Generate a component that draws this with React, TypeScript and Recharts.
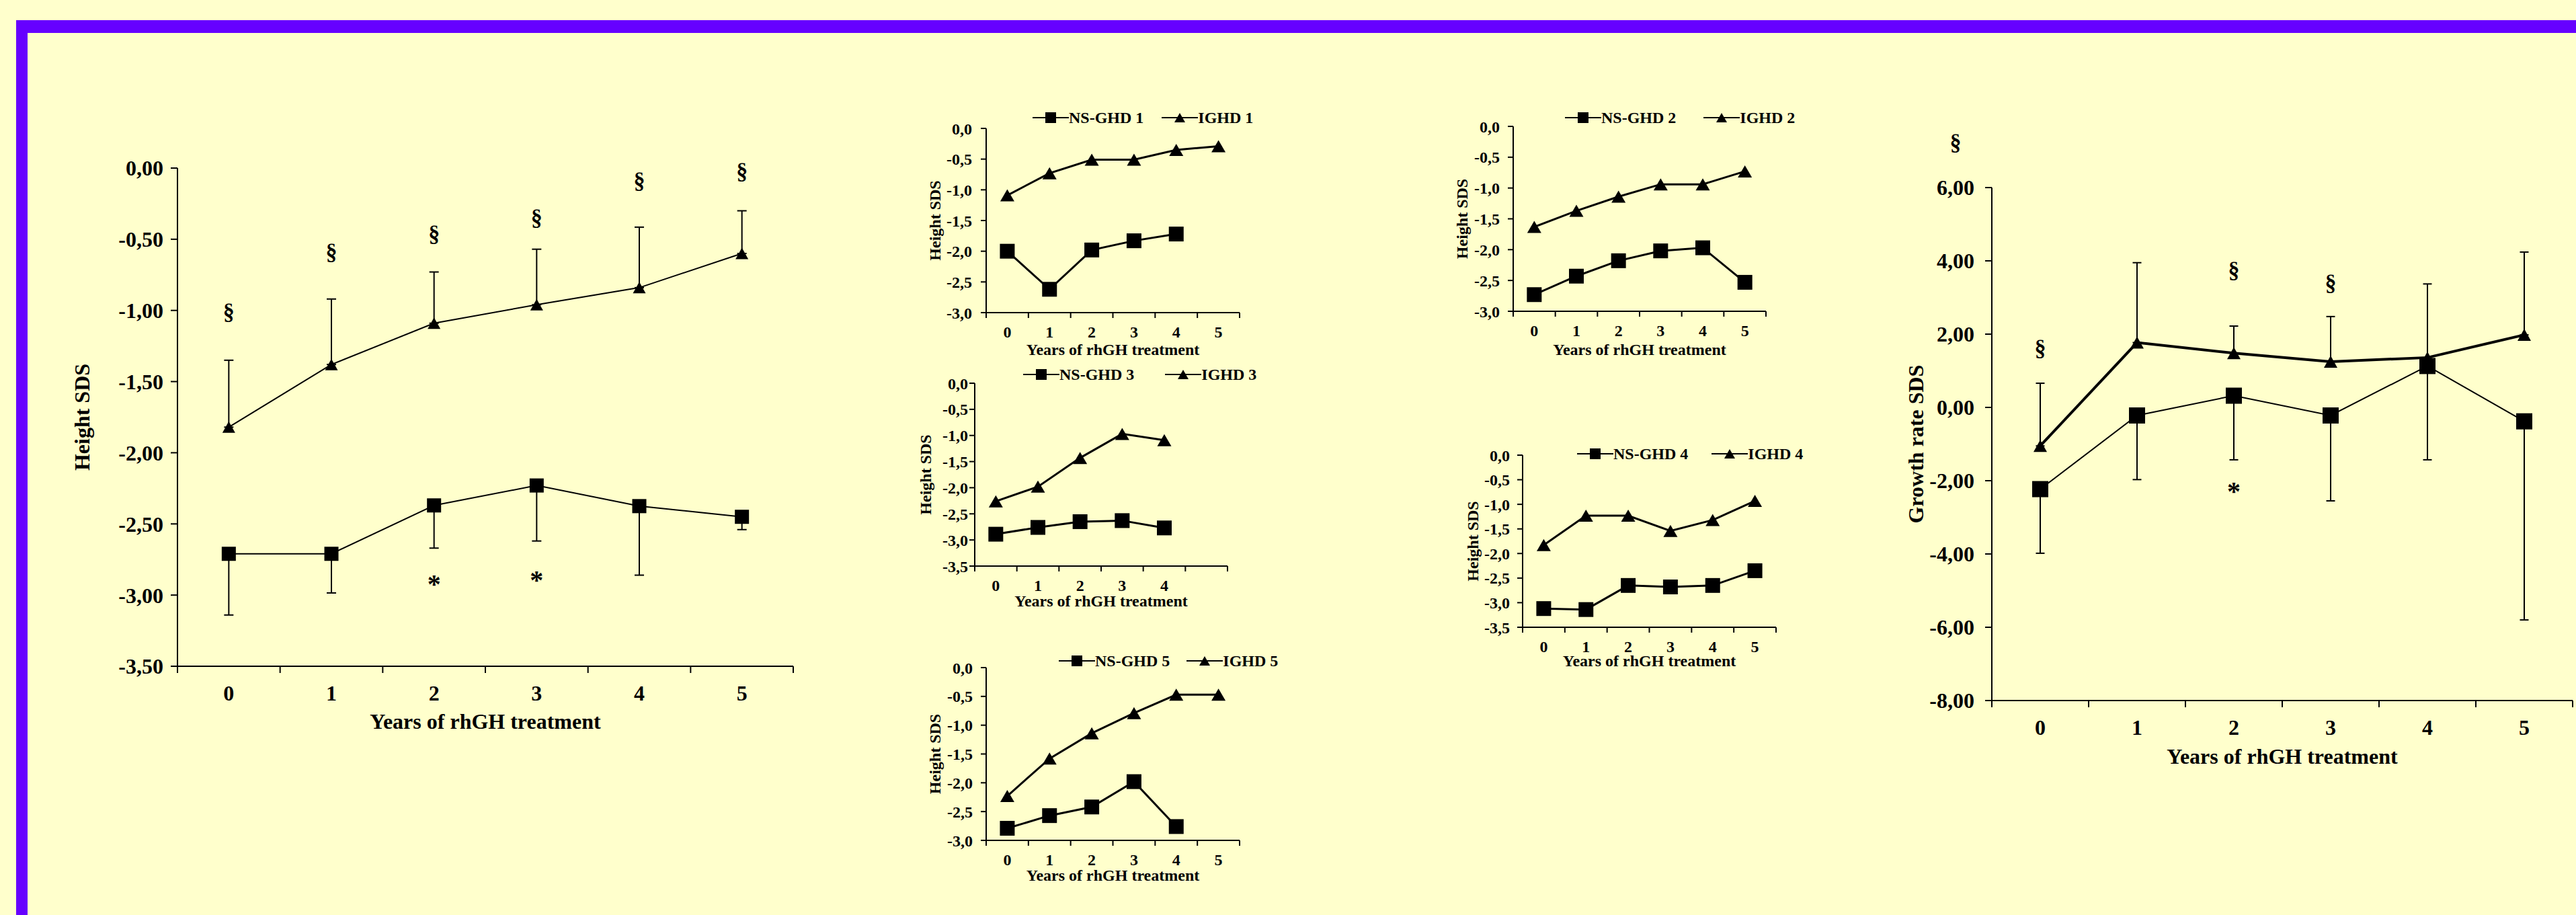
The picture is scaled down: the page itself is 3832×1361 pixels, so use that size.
import React from "react";
import { ErrorBar, Legend, Line, LineChart, XAxis, YAxis } from "recharts";

// years on the x axis (one band per year)
const years = ["0", "1", "2", "3", "4", "5"];
const years4 = ["0", "1", "2", "3", "4", ""];
const bandTicks = [0, 0.5, 1, 1.5, 2, 2.5, 3, 3.5, 4, 4.5, 5, 5.5, 6];

// height SDS, whole groups (mean, +/- SD shown one side)
const heightIghd = [-1.82, -1.38, -1.09, -0.96, -0.84, -0.6];
const heightIghdSd = [0.47, 0.46, 0.36, 0.39, 0.425, 0.3];
const heightNs = [-2.71, -2.71, -2.37, -2.23, -2.375, -2.45];
const heightNsSd = [0.43, 0.275, 0.3, 0.39, 0.485, 0.09];
const heightSection = [-1.02, -0.6, -0.47, -0.36, -0.1, -0.03];
const heightStar = [null, null, -2.89, -2.86, null, null];
const heightTicks = [0, -0.5, -1, -1.5, -2, -2.5, -3, -3.5];

// growth rate SDS
const growthIghd = [-1.05, 1.77, 1.48, 1.25, 1.36, 1.98];
const growthIghdSd = [1.71, 2.18, 0.74, 1.23, 2.01, 2.26];
const growthNs = [-2.23, -0.22, 0.32, -0.22, 1.13, -0.38];
const growthNsSd = [1.75, 1.75, 1.75, 2.33, 2.56, 5.42];
const growthSection = [1.58, null, 3.71, 3.37, null, null];
const growthStar = [null, null, -2.17, null, null, null];
const growthTicks = [6, 4, 2, 0, -2, -4, -6, -8];

// sub groups 1..5
const sub1Ns = [-2.0, -2.62, -1.98, -1.83, -1.72, null];
const sub1Ighd = [-1.09, -0.73, -0.51, -0.51, -0.35, -0.29];
const sub2Ns = [-2.73, -2.43, -2.18, -2.02, -1.97, -2.53];
const sub2Ighd = [-1.63, -1.37, -1.14, -0.94, -0.94, -0.73];
const sub3Ns = [-2.89, -2.76, -2.65, -2.63, -2.77, null];
const sub3Ighd = [-2.26, -1.98, -1.43, -0.97, -1.09, null];
const sub4Ns = [-3.12, -3.14, -2.65, -2.68, -2.65, -2.35];
const sub4Ighd = [-1.83, -1.23, -1.23, -1.54, -1.32, -0.93];
const sub5Ns = [-2.79, -2.57, -2.42, -1.98, -2.76, null];
const sub5Ighd = [-2.23, -1.58, -1.14, -0.79, -0.47, -0.47];
const subTicks3 = [0, -0.5, -1, -1.5, -2, -2.5, -3];
const subTicks35 = [0, -0.5, -1, -1.5, -2, -2.5, -3, -3.5];

type Val = number | null;

function buildRows(ighd: Val[], ns: Val[], ighdSd?: number[], nsSd?: number[], sec?: Val[], star?: Val[]) {
  return ighd.map((v, i) => ({
    x: i + 0.5,
    ighd: v,
    ns: ns[i],
    ighdErr: [0, ighdSd ? ighdSd[i] : 0],
    nsErr: [nsSd ? nsSd[i] : 0, 0],
    sec: sec ? sec[i] : null,
    star: star ? star[i] : null,
  }));
}

type Layout = {
  left: number; top: number; width: number; height: number;
  yAxisW: number; padTop: number; font: number;
  yTitleDist: number; yTickLen: number; yTickGap: number;
  xTickDy: number; xTitleBase: number; xTickLen: number;
  lineW: number; ighdW: number; square: number; triW: number; triH: number; cap: number;
  legend?: { x: number; y: number; gap: number };
};

const squareDot = (s: number) => (p: any) =>
  p.cy == null || Number.isNaN(p.cy) ? <g key={p.index} /> :
    <rect key={p.index} x={p.cx - s / 2} y={p.cy - s / 2} width={s} height={s} fill="#000" />;

const triDot = (w: number, h: number) => (p: any) =>
  p.cy == null || Number.isNaN(p.cy) ? <g key={p.index} /> :
    <polygon key={p.index} points={`${p.cx},${p.cy - h / 2} ${p.cx - w / 2},${p.cy + h / 2} ${p.cx + w / 2},${p.cy + h / 2}`} fill="#000" />;

const glyphDot = (ch: string, size: number, lift: number) => (p: any) =>
  p.cy == null || Number.isNaN(p.cy) ? <g key={p.index} /> :
    <text key={p.index} x={p.cx} y={p.cy} dy={`${lift}em`} textAnchor="middle" fontSize={size} fontWeight="bold" fill="#000">{ch}</text>;

function Panel({ rows, labels, domain, ticks, decimals, yTitle, names, L, errors, signs }: any) {
  const svgLeft = L.left - L.yAxisW;
  const svgTop = L.top - L.padTop;
  const xTick = (p: any) => {
    const v = p.payload.value;
    if (Math.abs(v - Math.round(v)) < 1e-6) {
      return <line x1={p.x} x2={p.x} y1={p.y} y2={p.y + L.xTickLen} stroke="#000" strokeWidth={2} />;
    }
    return (
      <text x={p.x} y={p.y + L.xTickDy} textAnchor="middle" fontSize={L.font} fontWeight="bold" fill="#000">
        {labels[Math.floor(v)]}
      </text>
    );
  };
  const legendBox = (props: any) => {
    // NS-GHD first, as in the original legend
    const items = [...(props.payload || [])].sort((a: any, b: any) => (a.dataKey === "ns" ? -1 : 0) - (b.dataKey === "ns" ? -1 : 0));
    return (
      <div style={{ display: "flex", alignItems: "center", height: 24, fontSize: L.font, fontWeight: "bold", whiteSpace: "nowrap", color: "#000" }}>
        {items.map((p: any, i: number) => (
          <div key={i} style={{ display: "flex", alignItems: "center", marginLeft: i ? L.legend.gap : 0 }}>
            <svg width={54} height={20}>
              <line x1={0} x2={54} y1={10} y2={10} stroke="#000" strokeWidth={2} />
              {p.dataKey === "ns" ? <rect x={19} y={2} width={16} height={16} fill="#000" /> : <polygon points="27,3 19,17 35,17" fill="#000" />}
            </svg>
            <span>{p.value}</span>
          </div>
        ))}
      </div>
    );
  };
  return (
    <div style={{ position: "absolute", left: svgLeft, top: svgTop }}>
      <LineChart
        width={L.yAxisW + L.width + 12}
        height={L.padTop + L.height + L.xTitleBase + 20}
        data={rows}
        margin={{ top: L.padTop, right: 12, bottom: 20, left: 0 }}
      >
        <XAxis
          xAxisId="yr"
          type="number"
          dataKey="x"
          domain={[0, 6]}
          ticks={bandTicks}
          interval={0}
          tickLine={false}
          tickSize={0}
          tickMargin={0}
          tick={xTick}
          height={L.xTitleBase}
          stroke="#000"
          strokeWidth={2}
          label={{ value: "Years of rhGH treatment", position: "insideBottom", offset: 0, fill: "#000", fontSize: L.font, fontWeight: "bold" }}
        />
        <YAxis
          type="number"
          domain={domain}
          ticks={ticks}
          interval={0}
          width={L.yAxisW}
          tickSize={L.yTickLen}
          tickMargin={L.yTickGap}
          tick={{ fill: "#000", fontSize: L.font, fontWeight: "bold" }}
          tickFormatter={(v: number) => v.toFixed(decimals).replace(".", ",")}
          stroke="#000"
          strokeWidth={2}
          label={{ value: yTitle, angle: -90, position: "insideLeft", offset: L.yAxisW - L.yTitleDist, fill: "#000", fontSize: L.font, fontWeight: "bold", style: { textAnchor: "middle" } }}
        />
        {L.legend && (
          <Legend
            layout="horizontal"
            verticalAlign="middle"
            align="center"
            wrapperStyle={{ left: L.legend.x - svgLeft, top: L.legend.y - svgTop - 12, width: "auto", height: 24 }}
            content={legendBox}
          />
        )}
        <Line xAxisId="yr" type="linear" dataKey="ns" name={names[0]} stroke="#000" strokeWidth={L.lineW} dot={squareDot(L.square)} activeDot={false} isAnimationActive={false}>
          {errors && <ErrorBar dataKey="nsErr" direction="y" width={L.cap} stroke="#000" strokeWidth={2} />}
        </Line>
        <Line xAxisId="yr" type="linear" dataKey="ighd" name={names[1]} stroke="#000" strokeWidth={L.ighdW} dot={triDot(L.triW, L.triH)} activeDot={false} isAnimationActive={false}>
          {errors && <ErrorBar dataKey="ighdErr" direction="y" width={L.cap} stroke="#000" strokeWidth={2} />}
        </Line>
        {signs && (
          <Line xAxisId="yr" dataKey="sec" stroke="none" legendType="none" dot={glyphDot("§", 34, 0.27)} activeDot={false} isAnimationActive={false} />
        )}
        {signs && (
          <Line xAxisId="yr" dataKey="star" stroke="none" legendType="none" dot={glyphDot("*", 40, 0.5)} activeDot={false} isAnimationActive={false} />
        )}
      </LineChart>
    </div>
  );
}

const bigBase = { font: 32, yTickLen: 10, xTickLen: 10, xTickDy: 51, lineW: 2, cap: 7 };
const smallBase = { font: 24, yAxisW: 110, padTop: 50, yTickLen: 8, xTickLen: 8, xTickDy: 37, lineW: 3, ighdW: 3, square: 22, triW: 21, triH: 18, cap: 0 };

const layoutHeight: Layout = { ...bigBase, left: 264, top: 250, width: 916, height: 741, yAxisW: 224, padTop: 50, yTitleDist: 142, yTickGap: 11, xTitleBase: 93, ighdW: 2, square: 21, triW: 19, triH: 17 };
const layoutGrowth: Layout = { ...bigBase, left: 2963, top: 279, width: 864, height: 763, yAxisW: 183, padTop: 79, yTitleDist: 113, yTickGap: 16, xTitleBase: 94, ighdW: 4, square: 24, triW: 20, triH: 18, cap: 6.5 };
const layoutS1: Layout = { ...smallBase, left: 1467, top: 191, width: 377, height: 274, yTitleDist: 77, yTickGap: 13, xTitleBase: 63, legend: { x: 1536, y: 175, gap: 27 } };
const layoutS3: Layout = { ...smallBase, left: 1450, top: 570, width: 376, height: 272, yTitleDist: 74, yTickGap: 2, xTitleBase: 60, legend: { x: 1522, y: 557, gap: 46 } };
const layoutS5: Layout = { ...smallBase, left: 1467, top: 993, width: 377, height: 257, yTitleDist: 77, yTickGap: 12, xTitleBase: 60, legend: { x: 1575, y: 983, gap: 25 } };
const layoutS2: Layout = { ...smallBase, left: 2251, top: 188, width: 376, height: 275, yTitleDist: 77, yTickGap: 12, xTitleBase: 65, legend: { x: 2328, y: 175, gap: 41 } };
const layoutS4: Layout = { ...smallBase, left: 2265, top: 677, width: 377, height: 256, yTitleDist: 75, yTickGap: 11, xTitleBase: 58, legend: { x: 2346, y: 675, gap: 35 } };

export default function App() {
  return (
    <div style={{ position: "absolute", left: 0, top: 0, width: 3832, height: 1361, background: "#FFFFCC", overflow: "hidden", fontFamily: "'Liberation Serif', 'Times New Roman', serif" }}>
      <div style={{ position: "absolute", left: 24, top: 30, width: 3808, height: 19, background: "#6600FF" }} />
      <div style={{ position: "absolute", left: 24, top: 30, width: 17, height: 1331, background: "#6600FF" }} />

      <Panel rows={buildRows(heightIghd, heightNs, heightIghdSd, heightNsSd, heightSection, heightStar)} labels={years} domain={[-3.5, 0]} ticks={heightTicks} decimals={2} yTitle="Height SDS" names={["NS-GHD", "IGHD"]} L={layoutHeight} errors signs />
      <Panel rows={buildRows(sub1Ighd, sub1Ns)} labels={years} domain={[-3, 0]} ticks={subTicks3} decimals={1} yTitle="Height SDS" names={["NS-GHD 1", "IGHD 1"]} L={layoutS1} />
      <Panel rows={buildRows(sub3Ighd, sub3Ns)} labels={years4} domain={[-3.5, 0]} ticks={subTicks35} decimals={1} yTitle="Height SDS" names={["NS-GHD 3", "IGHD 3"]} L={layoutS3} />
      <Panel rows={buildRows(sub5Ighd, sub5Ns)} labels={years} domain={[-3, 0]} ticks={subTicks3} decimals={1} yTitle="Height SDS" names={["NS-GHD 5", "IGHD 5"]} L={layoutS5} />
      <Panel rows={buildRows(sub2Ighd, sub2Ns)} labels={years} domain={[-3, 0]} ticks={subTicks3} decimals={1} yTitle="Height SDS" names={["NS-GHD 2", "IGHD 2"]} L={layoutS2} />
      <Panel rows={buildRows(sub4Ighd, sub4Ns)} labels={years} domain={[-3.5, 0]} ticks={subTicks35} decimals={1} yTitle="Height SDS" names={["NS-GHD 4", "IGHD 4"]} L={layoutS4} />
      <Panel rows={buildRows(growthIghd, growthNs, growthIghdSd, growthNsSd, growthSection, growthStar)} labels={years} domain={[-8, 6]} ticks={growthTicks} decimals={2} yTitle="Growth rate SDS" names={["NS-GHD", "IGHD"]} L={layoutGrowth} errors signs />

      <svg style={{ position: "absolute", left: 0, top: 0 }} width={3832} height={1361} pointerEvents="none">
        <text x={2909} y={214} dy="0.27em" textAnchor="middle" fontSize={34} fontWeight="bold" fill="#000">§</text>
      </svg>
    </div>
  );
}
